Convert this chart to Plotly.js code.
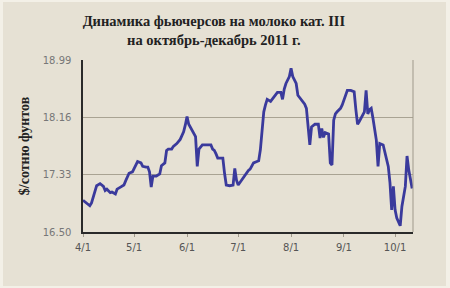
<!DOCTYPE html>
<html>
<head>
<meta charset="utf-8">
<script src="https://cdn.plot.ly/plotly-3.0.1.min.js"></script>
<style>
html,body{margin:0;padding:0;background:#f3f0e7;width:450px;height:288px;overflow:hidden;}
#chart{position:absolute;left:3px;top:2px;width:443px;height:284px;}
</style>
</head>
<body>
<div id="chart"></div>
<script>
// Dates and prices ($ per hundredweight)
const dates = [
 '2011-04-01','2011-04-03','2011-04-05','2011-04-06','2011-04-08','2011-04-09','2011-04-11','2011-04-13','2011-04-14','2011-04-15',
 '2011-04-17','2011-04-18','2011-04-20','2011-04-21','2011-04-23','2011-04-25','2011-04-26','2011-04-28','2011-04-30',
 '2011-05-02','2011-05-03','2011-05-05','2011-05-06','2011-05-08','2011-05-09','2011-05-10','2011-05-11','2011-05-12','2011-05-14',
 '2011-05-16','2011-05-17','2011-05-19','2011-05-20','2011-05-21','2011-05-23','2011-05-24','2011-05-26','2011-05-28','2011-05-29',
 '2011-05-30','2011-05-31',
 '2011-06-01','2011-06-02','2011-06-03','2011-06-04','2011-06-06','2011-06-07','2011-06-08','2011-06-10','2011-06-13','2011-06-15',
 '2011-06-16','2011-06-17','2011-06-18','2011-06-19','2011-06-21','2011-06-22','2011-06-23','2011-06-24','2011-06-26','2011-06-28',
 '2011-06-29','2011-06-30',
 '2011-07-01','2011-07-03','2011-07-05','2011-07-07','2011-07-08','2011-07-10','2011-07-12','2011-07-13','2011-07-14','2011-07-15',
 '2011-07-16','2011-07-17','2011-07-18','2011-07-20','2011-07-22','2011-07-24','2011-07-26','2011-07-27','2011-07-28','2011-07-29',
 '2011-07-31',
 '2011-08-01','2011-08-02','2011-08-04','2011-08-05','2011-08-07','2011-08-09','2011-08-10','2011-08-11','2011-08-12','2011-08-13',
 '2011-08-15','2011-08-17','2011-08-18','2011-08-19','2011-08-20','2011-08-21','2011-08-23','2011-08-24','2011-08-25','2011-08-26',
 '2011-08-27','2011-08-28','2011-08-30','2011-08-31',
 '2011-09-01','2011-09-03','2011-09-05','2011-09-07','2011-09-08','2011-09-09','2011-09-10','2011-09-12','2011-09-13','2011-09-14',
 '2011-09-15','2011-09-16','2011-09-17','2011-09-18','2011-09-20','2011-09-21','2011-09-22','2011-09-24','2011-09-25','2011-09-27',
 '2011-09-28','2011-09-29','2011-09-30',
 '2011-10-01','2011-10-02','2011-10-04','2011-10-05','2011-10-07','2011-10-08','2011-10-09','2011-10-11'
];
const prices = [
 16.96,16.92,16.88,16.92,17.08,17.17,17.20,17.16,17.10,17.12,
 17.07,17.08,17.05,17.12,17.15,17.18,17.24,17.35,17.37,
 17.46,17.52,17.50,17.45,17.44,17.44,17.37,17.15,17.31,17.31,
 17.34,17.46,17.50,17.68,17.70,17.70,17.74,17.78,17.84,17.89,
 17.95,18.05,
 18.17,18.06,18.02,17.97,17.88,17.45,17.70,17.76,17.76,17.76,
 17.70,17.68,17.63,17.57,17.57,17.57,17.35,17.18,17.17,17.18,
 17.42,17.25,
 17.18,17.25,17.33,17.39,17.41,17.50,17.52,17.53,17.69,17.93,
 18.24,18.34,18.42,18.39,18.46,18.52,18.52,18.42,18.57,18.65,
 18.75,
 18.87,18.75,18.65,18.48,18.42,18.35,18.29,18.02,17.76,18.02,
 18.06,18.06,17.86,18.00,17.87,17.94,17.92,17.50,17.47,18.12,
 18.21,18.24,18.29,18.34,
 18.42,18.55,18.55,18.53,18.27,18.06,18.10,18.19,18.24,18.55,
 18.21,18.27,18.29,18.15,17.83,17.45,17.78,17.76,17.64,17.45,
 17.21,16.82,17.16,
 16.82,16.70,16.59,16.87,17.16,17.60,17.40,17.13
];
const yTicks = [16.50, 17.33, 18.16, 18.99];
const yTickText = ['16.50', '17.33', '18.16', '18.99'];
const xTicks = ['2011-04-01','2011-05-01','2011-06-01','2011-07-01','2011-08-01','2011-09-01','2011-10-01'];
const xTickText = ['4/1','5/1','6/1','7/1','8/1','9/1','10/1'];

const trace = {
  x: dates, y: prices, type: 'scatter', mode: 'lines',
  line: {color: '#3a3a9c', width: 2.8, shape: 'linear'},
  hoverinfo: 'skip'
};

const bg = '#e6e1d4';
const layout = {
  width: 443, height: 284,
  paper_bgcolor: bg, plot_bgcolor: bg,
  margin: {l: 80, r: 33, t: 58, b: 54},
  showlegend: false,
  title: {
    text: '<b>Динамика фьючерсов на молоко кат. III</b><br><b>на октябрь-декабрь 2011 г.</b>',
    font: {family: 'Liberation Serif, serif', size: 14.5, color: '#222'},
    x: 0.476, xanchor: 'center', xref: 'container',
    y: 0.915, yanchor: 'top', yref: 'container'
  },
  xaxis: {
    type: 'date',
    range: ['2011-04-01', '2011-10-11 12:00'],
    tickvals: xTicks, ticktext: xTickText,
    showgrid: false, zeroline: false,
    showline: true, linecolor: '#2a2a2a', linewidth: 1.6,
    ticks: 'outside', ticklen: 3, tickcolor: '#a09a8c', tickwidth: 1,
    tickfont: {family: 'DejaVu Sans, sans-serif', size: 10, color: '#555'},
    ticklabelstandoff: 2
  },
  yaxis: {
    range: [16.50, 18.99],
    tickvals: yTicks, ticktext: yTickText,
    showgrid: true, gridcolor: '#a9a393', gridwidth: 1,
    zeroline: false,
    showline: true, linecolor: '#2a2a2a', linewidth: 1.6,
    ticks: '',
    ticklabelstandoff: 8,
    tickfont: {family: 'DejaVu Sans, sans-serif', size: 10, color: '#777'},
    title: {
      text: '<b>$/сотню фунтов</b>',
      font: {family: 'Liberation Serif, serif', size: 14, color: '#222'},
      standoff: 10
    }
  },
  shapes: [
    {type: 'line', xref: 'paper', yref: 'paper', x0: 1, x1: 1, y0: 0, y1: 1,
     line: {color: '#9f998b', width: 1}}
  ]
};

Plotly.newPlot('chart', [trace], layout, {displayModeBar: false, staticPlot: true});
</script>
</body>
</html>
